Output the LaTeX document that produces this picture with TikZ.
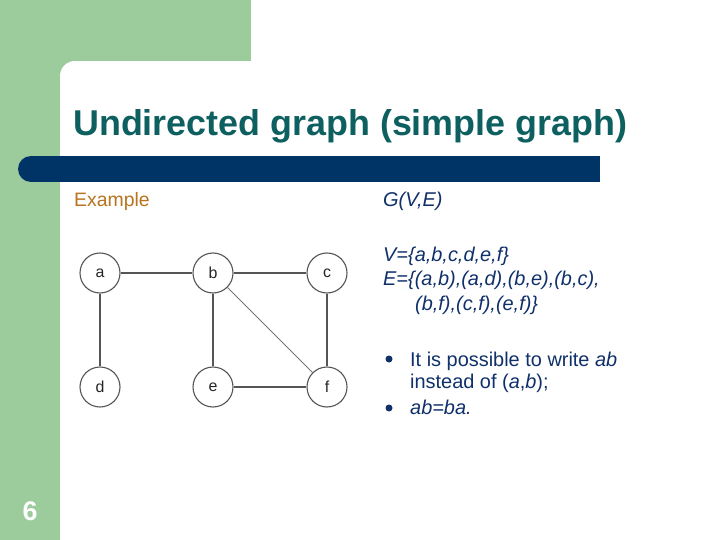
\documentclass[tikz,border=0pt]{standalone}
\usepackage{fontspec}
\setmainfont{Liberation Sans}
\definecolor{slidegreen}{HTML}{9CCC9C}
\definecolor{barblue}{HTML}{003366}
\definecolor{titleteal}{HTML}{0E6060}
\definecolor{exorange}{HTML}{B8741E}
\definecolor{txtblue}{HTML}{10306A}
\definecolor{edgegray}{HTML}{555555}
\begin{document}
\begin{tikzpicture}[x=1bp,y=-1bp,
  vtx/.style={circle,draw=edgegray,line width=1.1bp,minimum size=40bp,inner sep=0pt,font=\fontsize{16}{18}\selectfont,text=black!85},
  edge/.style={draw=edgegray,line width=1.3bp},
  thinedge/.style={draw=edgegray!80,line width=0.8bp},
  bodytxt/.style={anchor=base west,inner sep=0pt,text=txtblue,font=\fontsize{20}{23}\selectfont},
  bul/.style={circle,fill=txtblue,minimum size=7bp,inner sep=0pt}]
\useasboundingbox (0,0) rectangle (720,540);
\fill[white] (0,0) rectangle (720,540);
% green background
\fill[slidegreen] (0,0) rectangle (251,61);
\fill[slidegreen] (0,0) rectangle (60,540);
\fill[slidegreen] (60,61) rectangle (75,76);
\fill[white] (75,76) circle[radius=15];
% bar
\fill[barblue] (31,156) rectangle (600,182);
\fill[barblue] (31,169) circle[radius=13];
% title
\node[anchor=base west,inner sep=0pt,text=titleteal,font=\bfseries\fontsize{36}{40}\selectfont] (title) at (73,136) {Undirected graph (simple graph)};
% page number
\node[anchor=base,inner sep=0pt,text=white,font=\bfseries\fontsize{27}{30}\selectfont] (pnum) at (30,520) {6};
% left column
\node[anchor=base west,inner sep=0pt,text=exorange,font=\fontsize{19.5}{23}\selectfont] (ex) at (74,207) {Example};
% graph
\node[vtx] (a) at (100,273) {a};
\node[vtx] (b) at (213,273) {b};
\node[vtx] (c) at (327,273) {c};
\node[vtx] (d) at (100,387) {d};
\node[vtx] (e) at (213,387) {e};
\node[vtx] (f) at (327,387) {f};
\draw[edge] (a) -- (b);
\draw[edge] (b) -- (c);
\draw[edge] (a) -- (d);
\draw[edge] (b) -- (e);
\draw[edge] (c) -- (f);
\draw[edge] (e) -- (f);
\draw[thinedge] (b) -- (f);
% right column
\node[bodytxt] (g) at (383,207) {\itshape G(V,E)};
\node[bodytxt] (v) at (383,262) {\itshape V=\{a,b,c,d,e,f\}};
\node[bodytxt] (eset) at (383,286) {\itshape E=\{(a,b),(a,d),(b,e),(b,c),};
\node[bodytxt] (eset2) at (415,310) {\itshape (b,f),(c,f),(e,f)\}};
\node[bul] (b1) at (389,359) {};
\node[bodytxt] (t1) at (410,366) {It is possible to write \textit{ab}};
\node[bodytxt] (t2) at (410,388) {instead of (\textit{a},\textit{b});};
\node[bul] (b2) at (389,408) {};
\node[bodytxt] (t3) at (410,414) {\itshape ab=ba.};
\end{tikzpicture}
\end{document}
